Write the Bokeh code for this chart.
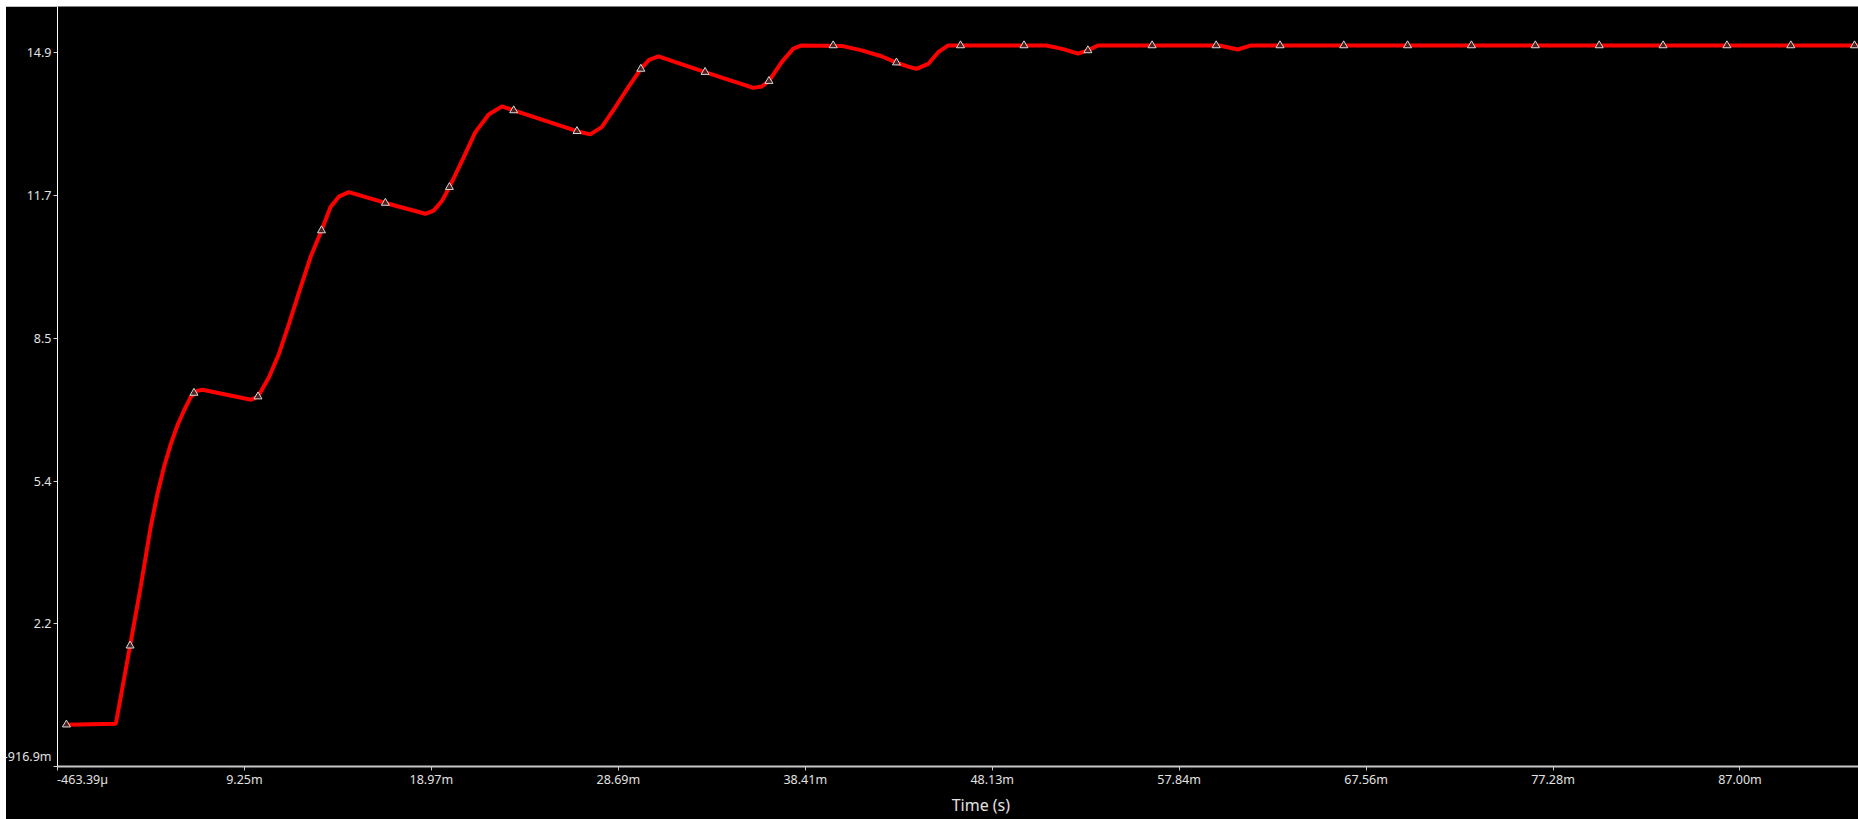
from bokeh.plotting import figure
from bokeh.models import Range1d, FixedTicker, Spacer, InlineStyleSheet
from bokeh.layouts import column
from bokeh.embed import file_html
from bokeh.resources import INLINE

# ---- data (time in ms, voltage in V) ----
time_ms = [0.00, 2.57, 3.31, 3.86, 4.38, 4.73, 5.08, 5.42, 5.77, 6.11, 6.46, 6.81, 7.07,
           9.60, 9.96, 10.53, 11.05, 11.57, 12.09, 12.69, 13.26, 13.73, 14.16, 14.68,
           16.58, 18.66, 19.09, 19.53, 19.91, 20.57, 21.26, 21.95, 22.64, 23.25,
           26.54, 27.23, 27.83, 28.53, 29.22, 29.86, 30.29, 30.78, 33.20, 35.71,
           36.14, 36.52, 37.18, 37.79, 38.22, 40.30, 41.34, 42.37, 43.15, 43.76,
           44.19, 44.80, 45.32, 45.84, 50.94, 51.72, 52.59, 53.10, 53.62, 59.94,
           60.89, 61.59, 93.16]
voltage = [0.01, 0.03, 1.76, 3.06, 4.39, 5.12, 5.73, 6.22, 6.64, 6.97, 7.27, 7.41, 7.43,
           7.21, 7.28, 7.71, 8.23, 8.89, 9.59, 10.37, 10.96, 11.48, 11.71, 11.81,
           11.57, 11.33, 11.40, 11.62, 11.92, 12.51, 13.14, 13.53, 13.71, 13.62,
           13.16, 13.09, 13.25, 13.69, 14.14, 14.54, 14.74, 14.82, 14.47, 14.12,
           14.15, 14.27, 14.69, 14.99, 15.06, 15.05, 14.95, 14.82, 14.68, 14.59,
           14.54, 14.65, 14.91, 15.06, 15.06, 14.99, 14.88, 14.95, 15.06, 15.06,
           14.97, 15.06, 15.06]

marker_t = [0.00, 3.31, 6.63, 9.96, 13.26, 16.58, 19.91, 23.25, 26.54, 29.86, 33.20,
            36.52, 39.86, 43.15, 46.48, 49.78, 53.10, 56.44, 59.77, 63.09, 66.40,
            69.72, 73.04, 76.36, 79.68, 83.00, 86.32, 89.64, 92.95]
marker_v = [0.01, 1.76, 7.36, 7.28, 10.96, 11.57, 11.92, 13.62, 13.16, 14.54, 14.47,
            14.27, 15.06, 14.68, 15.06, 15.06, 14.95, 15.06, 15.06, 15.06, 15.06,
            15.06, 15.06, 15.06, 15.06, 15.06, 15.06, 15.06, 15.06]

x_ticks = [-0.46339, 9.25451, 18.97241, 28.69031, 38.40821, 48.12611, 57.84401,
           67.56191, 77.27981, 86.99771]
x_labels = ["-463.39µ", "9.25m", "18.97m", "28.69m", "38.41m", "48.13m", "57.84m",
            "67.56m", "77.28m", "87.00m"]
y_ticks = [-0.9169, 2.2461, 5.4091, 8.5721, 11.7351, 14.8981]
y_labels = ["-916.9m", "2.2", "5.4", "8.5", "11.7", "14.9"]
x_title = "Time (s)"

FONT = "Noto Sans"
TXT = "#e2e2e2"
FS = "12.5px"
FSP = "\u2007"  # figure space, used only to shift label placement

p = figure(width=1858, height=813, output_backend="svg", toolbar_location=None,
           x_range=Range1d(x_ticks[0], 93.16), y_range=Range1d(y_ticks[0], 15.923),
           background_fill_color="black", border_fill_color="black",
           min_border_left=55, min_border_right=0, min_border_top=0,
           min_border_bottom=53)
p.outline_line_color = None
p.grid.visible = False
# the reference screenshot shows a thin white strip along its left edge
p.stylesheets = [InlineStyleSheet(css=":host { clip-path: inset(0px 0px 0px 6px); }")]

p.line(time_ms, voltage, line_color="#ff0000", line_width=4)
p.scatter(marker_t, marker_v, marker="triangle", size=8, fill_color="#4a2222",
          line_color="#d8d8d8", line_width=1)

# first x label starts at its tick (left aligned) -> pad with figure spaces
x_disp = [FSP * 7 + x_labels[0]] + x_labels[1:]

xa = p.xaxis[0]
xa.ticker = FixedTicker(ticks=x_ticks)
xa.major_label_overrides = {t: lab for t, lab in zip(x_ticks, x_disp)}
xa.axis_label = FSP * 5 + x_title
xa.axis_label_text_font = FONT
xa.axis_label_text_font_size = "16px"
xa.axis_label_text_font_style = "normal"
xa.axis_label_text_color = TXT
xa.axis_label_standoff = 3
xa.axis_line_color = "#c8c8c8"
xa.axis_line_width = 2
xa.major_tick_line_color = "#c8c8c8"
xa.major_tick_out = 4
xa.major_tick_in = 0
xa.minor_tick_line_color = None
xa.major_label_text_font = FONT
xa.major_label_text_font_size = FS
xa.major_label_text_color = TXT
xa.major_label_standoff = 0

# bottom y label sits a little above its tick in the reference
y_disp = [y_labels[0] + "\n"] + y_labels[1:]

ya = p.yaxis[0]
ya.ticker = FixedTicker(ticks=y_ticks)
ya.major_label_overrides = {t: lab for t, lab in zip(y_ticks, y_disp)}
ya.axis_line_color = "#ffffff"
ya.axis_line_width = 1
ya.major_tick_line_color = "#d0d0d0"
ya.major_tick_out = 4
ya.major_tick_in = 0
ya.minor_tick_line_color = None
ya.major_label_text_font = FONT
ya.major_label_text_font_size = FS
ya.major_label_text_color = TXT
ya.major_label_standoff = 2

layout = column(Spacer(height=6, width=1858), p)

open("out.html", "w").write(file_html(layout, INLINE))
